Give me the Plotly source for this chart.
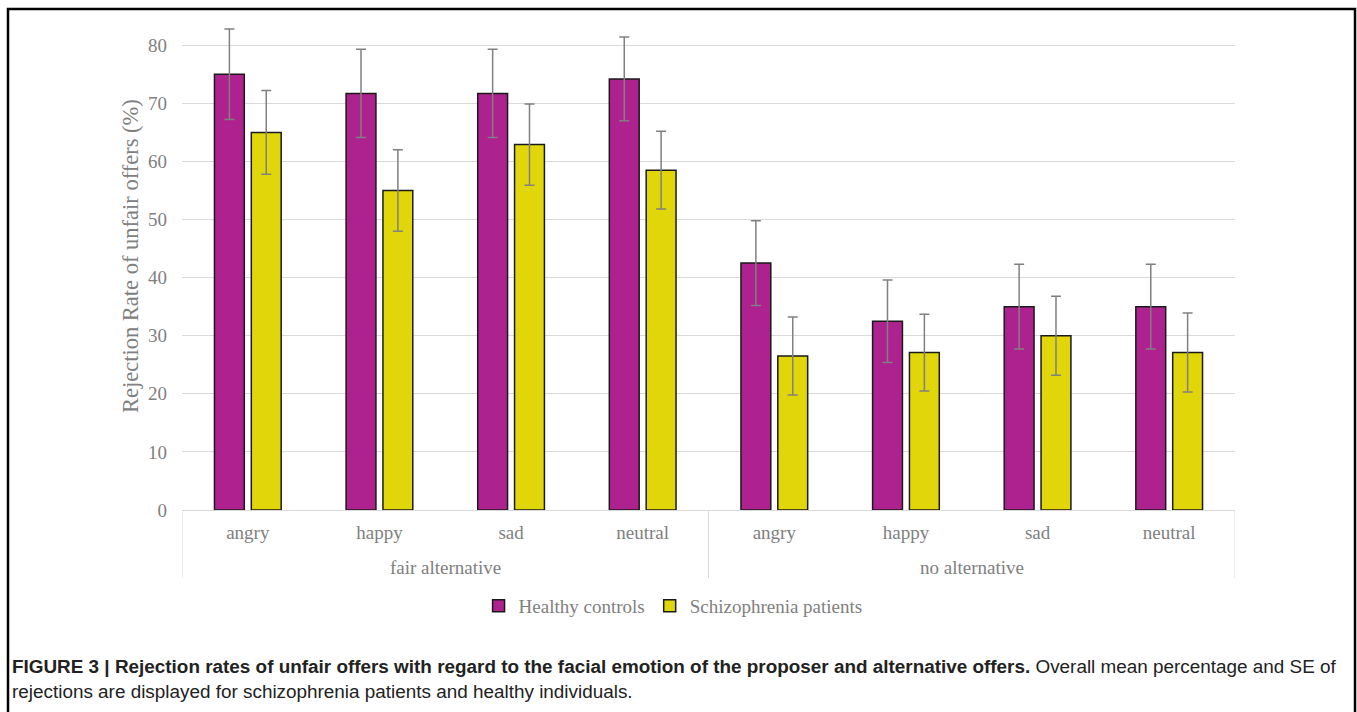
import plotly.graph_objects as go

groups = ["fair alternative", "no alternative"]
emotions = ["angry", "happy", "sad", "neutral"]
conditions = [g for g in groups for _ in emotions]
emotion_labels = emotions * len(groups)

hc_mean = [75.0, 71.7, 71.7, 74.2, 42.5, 32.5, 35.0, 35.0]
hc_se = [7.8, 7.6, 7.6, 7.2, 7.3, 7.1, 7.3, 7.3]
sz_mean = [65.0, 55.0, 62.9, 58.5, 26.5, 27.1, 30.0, 27.1]
sz_se = [7.2, 7.0, 7.0, 6.7, 6.7, 6.6, 6.8, 6.8]

series_names = ["Healthy controls", "Schizophrenia patients"]
y_ticks = [0, 10, 20, 30, 40, 50, 60, 70, 80]

W, H = 1357, 712
L, R, T, B = 182, 122, 22, 202
pw, ph = W - L - R, H - T - B

def px_to_paper_x(px):
    return (px - L) / pw

def px_to_paper_y(py):
    return (H - B - py) / ph

serif = "Liberation Serif, Times New Roman, serif"
gray = "#808080"
light = "#d9d9d9"

xpos = list(range(len(emotion_labels)))

fig = go.Figure()
for name, mean, se, color in [
    (series_names[0], hc_mean, hc_se, "#AD228E"),
    (series_names[1], sz_mean, sz_se, "#E0D60A"),
]:
    fig.add_trace(go.Bar(
        x=xpos, y=mean, name=name,
        customdata=conditions,
        marker=dict(color=color, line=dict(color="#1a1a1a", width=1.5)),
        error_y=dict(type="data", array=se, visible=True, color=gray,
                     thickness=1.5, width=5),
    ))

fig.update_layout(
    width=W, height=H,
    margin=dict(l=L, r=R, t=T, b=B),
    paper_bgcolor="white", plot_bgcolor="white",
    barmode="group", bargap=0.44, bargroupgap=0.19,
    font=dict(family=serif, color=gray, size=19),
    showlegend=True,
    legend=dict(orientation="h", xref="container", yref="container",
                x=0.496, y=1 - 606 / H, xanchor="center", yanchor="middle",
                font=dict(family=serif, size=19, color=gray),
                itemwidth=30, tracegroupgap=0),
    yaxis=dict(range=[0, 84], tickvals=y_ticks, showgrid=True,
               gridcolor=light, gridwidth=1, zeroline=False,
               showline=False, ticklabelstandoff=14,
               tickfont=dict(family=serif, size=19, color=gray)),
    xaxis=dict(range=[-0.5, len(xpos) - 0.5], tickvals=xpos,
               ticktext=emotion_labels, ticks="", showline=True,
               linecolor=light, linewidth=1, showgrid=False, zeroline=False,
               ticklabelstandoff=5,
               tickfont=dict(family=serif, size=19, color=gray)),
)

# Y-axis title
fig.add_annotation(
    xref="paper", yref="paper", x=px_to_paper_x(130), y=px_to_paper_y(256),
    text="Rejection Rate of unfair offers (%)", textangle=-90, showarrow=False,
    xanchor="center", yanchor="middle",
    font=dict(family=serif, size=22.5, color=gray),
)

# Group dividers and labels
n = len(emotions)
for gi, g in enumerate(groups):
    left = gi * n - 0.5
    fig.add_shape(type="line", xref="x", yref="paper", x0=left, x1=left,
                  y0=0, y1=px_to_paper_y(578), line=dict(color=light, width=1))
    fig.add_annotation(xref="x", yref="paper", x=gi * n + (n - 1) / 2,
                       y=px_to_paper_y(567), text=g, showarrow=False,
                       xanchor="center", yanchor="middle",
                       font=dict(family=serif, size=19, color=gray))
end = len(groups) * n - 0.5
fig.add_shape(type="line", xref="x", yref="paper", x0=end, x1=end,
              y0=0, y1=px_to_paper_y(578), line=dict(color=light, width=1))

# Outer frame
fig.add_shape(type="rect", xref="paper", yref="paper",
              x0=px_to_paper_x(8), x1=px_to_paper_x(1355),
              y0=px_to_paper_y(760), y1=px_to_paper_y(9),
              line=dict(color="black", width=2.5), fillcolor="rgba(0,0,0,0)")

sans = "Liberation Sans, Arial, sans-serif"
fig.add_annotation(
    xref="paper", yref="paper", x=px_to_paper_x(10), y=px_to_paper_y(666),
    xanchor="left", yanchor="middle", showarrow=False, align="left",
    text=("<b>FIGURE 3 | Rejection rates of unfair offers with regard to the facial "
          "emotion of the proposer and alternative offers.</b> Overall mean percentage and SE of"),
    font=dict(family=sans, size=18.9, color="#222222"),
)
fig.add_annotation(
    xref="paper", yref="paper", x=px_to_paper_x(10), y=px_to_paper_y(691),
    xanchor="left", yanchor="middle", showarrow=False, align="left",
    text="rejections are displayed for schizophrenia patients and healthy individuals.",
    font=dict(family=sans, size=18.9, color="#222222"),
)

fig.write_html("out.html")
